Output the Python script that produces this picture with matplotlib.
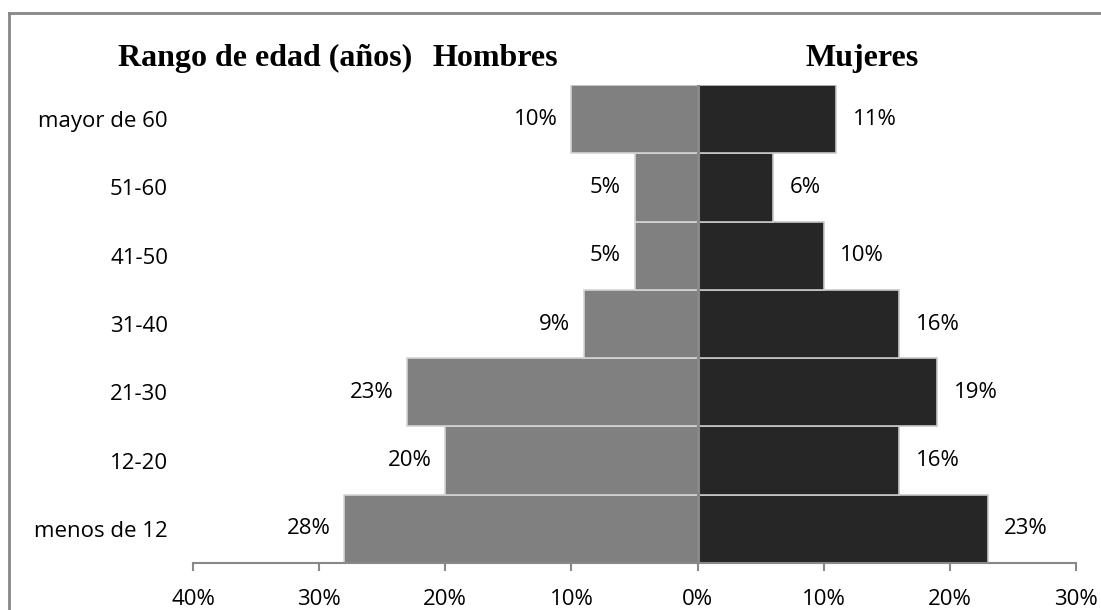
import matplotlib.pyplot as plt
import numpy as np

# age groups, bottom to top
grupos = ["menos de 12", "12-20", "21-30", "31-40", "41-50", "51-60", "mayor de 60"]
hombres = [28, 20, 23, 9, 5, 5, 10]
mujeres = [23, 16, 19, 16, 10, 6, 11]
xticks = [-40, -30, -20, -10, 0, 10, 20, 30]

label_font = "Open Sans"
title_font = "Liberation Serif"
fs = 16

fig = plt.figure(figsize=(11.01, 6.10), dpi=100)
ax = fig.add_axes([0.1753, 0.0770, 0.8020, 0.7837])

y = np.arange(len(grupos))
h_bars = ax.barh(y, [-v for v in hombres], height=1.0, color="#808080",
                 edgecolor="#d4d4d4", linewidth=1.2)
m_bars = ax.barh(y, mujeres, height=1.0, color="#262626",
                 edgecolor="#c8c8c8", linewidth=1.2)

ax.bar_label(h_bars, labels=[f"{v}%" for v in hombres], padding=10,
             fontsize=fs, fontfamily=label_font)
ax.bar_label(m_bars, labels=[f"{v}%" for v in mujeres], padding=12,
             fontsize=fs, fontfamily=label_font)

ax.axvline(0, color="#888888", linewidth=2.2, zorder=3)

ax.set_xlim(-40, 30)
ax.set_ylim(-0.5, 6.5)
ax.set_xticks(xticks, [f"{abs(t)}%" for t in xticks])
ax.set_yticks(y, grupos)

for s in ["top", "right", "left"]:
    ax.spines[s].set_visible(False)
ax.spines["bottom"].set_color("#888888")
ax.spines["bottom"].set_linewidth(1.5)
ax.tick_params(axis="x", length=6, width=1.5, color="#888888", pad=12.5)
ax.tick_params(axis="y", length=0, pad=18)
for lab in ax.get_xticklabels() + ax.get_yticklabels():
    lab.set_fontfamily(label_font)
    lab.set_fontsize(fs)

# column headers
fig.text(0.241, 0.904, "Rango de edad (años)", ha="center", va="center",
         fontsize=23, fontweight="bold", family=title_font)
fig.text(0.450, 0.904, "Hombres", ha="center", va="center",
         fontsize=23, fontweight="bold", family=title_font)
fig.text(0.783, 0.904, "Mujeres", ha="center", va="center",
         fontsize=23, fontweight="bold", family=title_font)

# frame lines (top and left edges)
fig.add_artist(plt.Line2D([0.0085, 1.0], [0.978, 0.978], color="#888888", linewidth=2))
fig.add_artist(plt.Line2D([0.0085, 0.0085], [0.0, 0.978], color="#888888", linewidth=2))

fig.savefig("out.png", dpi=100)
